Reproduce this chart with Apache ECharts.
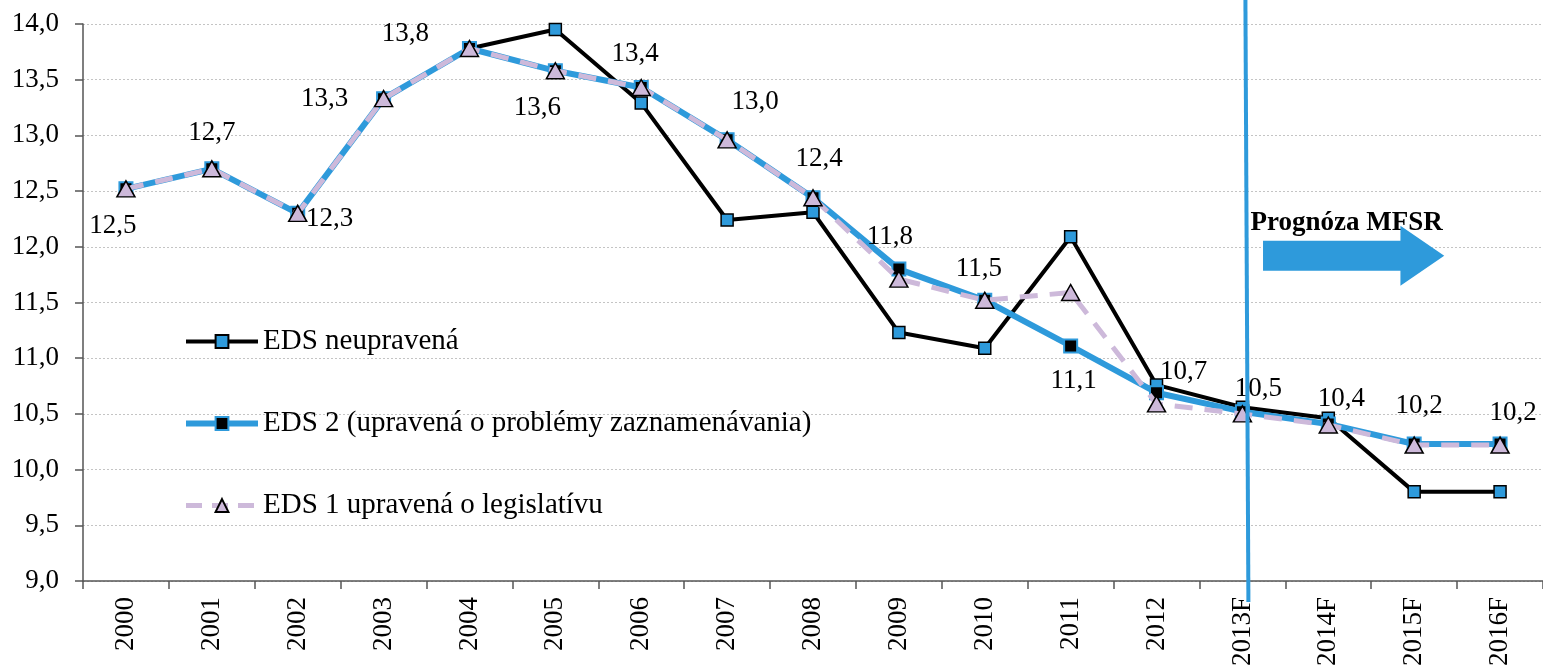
<!DOCTYPE html>
<html>
<head>
<meta charset="utf-8">
<script src="https://cdn.jsdelivr.net/npm/echarts@6/dist/echarts.min.js"></script>
<style>
html,body{margin:0;padding:0;background:#fff;}
#chart{width:1543px;height:669px;}
</style>
</head>
<body>
<div id="chart"></div>
<script>
// ---- data ----
const categories = ['2000','2001','2002','2003','2004','2005','2006','2007','2008','2009','2010','2011','2012','2013F','2014F','2015F','2016F'];
const edsRaw = [12.52,12.70,12.30,13.33,13.78,13.95,13.29,12.24,12.31,11.23,11.09,12.09,10.76,10.56,10.46,9.80,9.80];
const eds2   = [12.52,12.70,12.30,13.33,13.78,13.58,13.43,12.96,12.44,11.80,11.52,11.11,10.69,10.52,10.41,10.23,10.23];
const eds1   = [12.52,12.70,12.30,13.33,13.78,13.58,13.43,12.96,12.44,11.71,11.52,11.59,10.59,10.50,10.40,10.22,10.22];
const seriesNames = ['EDS neupravená','EDS 2 (upravená o problémy zaznamenávania)','EDS 1 upravená o legislatívu'];
const yTicks = {min: 9, max: 14, interval: 0.5};
const forecastStart = '2013F';
const forecastText = 'Prognóza MFSR';

// ---- label placement (style) ----
const labelOffsets = [[-13,37],[0,-36],[32,6],[-59,0],[-64,-15],[-18,37],[-6,-34],[28,-38],[6,-39],[-9,-32],[-6,-31],[3,35],[27,-21],[16,-23],[13,-25],[5,-38],[13,-31]];

const FONT = 'Liberation Serif';
const BLUE = '#2E9ADB';
const LAV = '#CDB9DA';
const fmt = v => Number(v).toFixed(1).replace('.', ',');

const chart = echarts.init(document.getElementById('chart'));

const option = {
  animation: false,
  backgroundColor: '#fff',
  textStyle: {fontFamily: FONT, color: '#000'},
  grid: {left: 83, right: 0, top: 24, bottom: 87, containLabel: false},
  legend: {
    orient: 'vertical',
    left: 178,
    top: 322,
    itemWidth: 72,
    itemHeight: 16,
    itemGap: 53,
    textStyle: {fontFamily: FONT, fontSize: 29, color: '#000'},
    data: [
      {name: seriesNames[0], lineStyle: {width: 4}},
      {name: seriesNames[1], lineStyle: {width: 6}},
      {name: seriesNames[2], lineStyle: {width: 5, type: [16, 10]}}
    ]
  },
  xAxis: {
    type: 'category',
    data: categories,
    boundaryGap: true,
    axisLine: {lineStyle: {color: '#555', width: 1.5}},
    axisTick: {show: true, length: 8, lineStyle: {color: '#555', width: 1.5}},
    axisLabel: {rotate: 90, fontFamily: FONT, fontSize: 27, color: '#000', margin: 16},
    splitLine: {show: false}
  },
  yAxis: {
    type: 'value',
    min: yTicks.min,
    max: yTicks.max,
    interval: yTicks.interval,
    axisLine: {show: true, lineStyle: {color: '#555', width: 1.5}},
    axisTick: {show: true, length: 8, lineStyle: {color: '#555', width: 1.5}},
    axisLabel: {fontFamily: FONT, fontSize: 27, color: '#000', margin: 24, formatter: fmt},
    splitLine: {show: true, lineStyle: {color: '#c4c4c4', type: [2, 2], width: 1}}
  },
  series: [
    {
      name: seriesNames[0],
      type: 'line',
      data: edsRaw,
      z: 2,
      symbol: 'rect',
      symbolSize: 12,
      lineStyle: {color: '#000', width: 4},
      itemStyle: {color: BLUE, borderColor: '#000', borderWidth: 1.5},
      label: {show: false}
    },
    {
      name: seriesNames[1],
      type: 'line',
      z: 3,
      data: eds2.map((v, i) => ({
        value: v,
        label: {offset: labelOffsets[i]}
      })),
      symbol: 'rect',
      symbolSize: 13,
      lineStyle: {color: BLUE, width: 6},
      itemStyle: {color: '#000', borderColor: BLUE, borderWidth: 2},
      label: {
        show: true,
        position: 'inside',
        fontFamily: FONT,
        fontSize: 27,
        color: '#000',
        formatter: p => fmt(p.value)
      }
    },
    {
      name: seriesNames[2],
      type: 'line',
      z: 4,
      data: eds1,
      symbol: 'triangle',
      symbolSize: [18, 16],
      lineStyle: {color: LAV, width: 5, type: [18, 12]},
      itemStyle: {color: LAV, borderColor: '#000', borderWidth: 1.5},
      label: {show: false}
    }
  ]
};
chart.setOption(option);

// ---- annotation: forecast divider, arrow and text, anchored to the axes ----
const xF = chart.convertToPixel({xAxisIndex: 0}, forecastStart);
const x15 = chart.convertToPixel({xAxisIndex: 0}, '2015F');
const yArrow = chart.convertToPixel({yAxisIndex: 0}, 11.92);
const yText = chart.convertToPixel({yAxisIndex: 0}, 12.21);
const bw = (x15 - xF) / 2; // band width
const ax0 = xF + 0.24 * bw, axHead = xF + 1.84 * bw, axTip = xF + 2.35 * bw;
chart.setOption({
  graphic: [
    {
      type: 'line', z: 10,
      shape: {x1: xF + 3, y1: 0, x2: xF + 6, y2: 602},
      style: {stroke: BLUE, lineWidth: 4}
    },
    {
      type: 'text', z: 11,
      x: xF + 8, y: yText,
      style: {text: forecastText, font: 'bold 27px "' + FONT + '"', fill: '#000', verticalAlign: 'middle', align: 'left'}
    },
    {
      type: 'polygon', z: 12,
      shape: {points: [
        [ax0, yArrow - 15], [axHead, yArrow - 15], [axHead, yArrow - 30],
        [axTip, yArrow], [axHead, yArrow + 30], [axHead, yArrow + 15], [ax0, yArrow + 15]
      ]},
      style: {fill: BLUE}
    }
  ]
});
</script>
</body>
</html>
